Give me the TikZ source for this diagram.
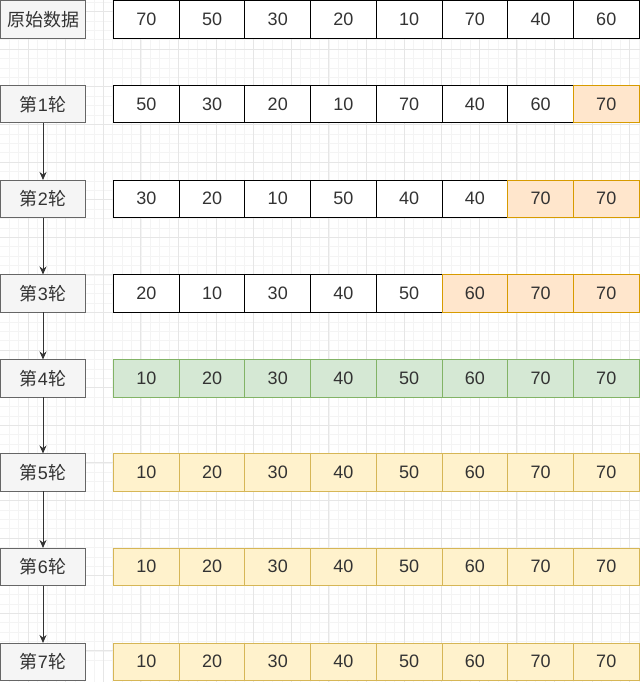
\documentclass[tikz,border=0pt]{standalone}
\usepackage{fontspec}
\setmainfont{Liberation Sans}
\newfontfamily\cjk{Noto Sans CJK SC}
\usetikzlibrary{arrows.meta}
\definecolor{gridminor}{HTML}{F4F4F4}
\definecolor{gridmajor}{HTML}{E6E6E6}
\definecolor{lblfill}{HTML}{F5F5F5}
\definecolor{lblline}{HTML}{666666}
\definecolor{txt}{HTML}{333333}
\definecolor{orfill}{HTML}{FFE6CC}
\definecolor{orline}{HTML}{D79B00}
\definecolor{grfill}{HTML}{D5E8D4}
\definecolor{grline}{HTML}{82B366}
\definecolor{yefill}{HTML}{FFF2CC}
\definecolor{yeline}{HTML}{D6B656}
\tikzset{
  base/.style={draw, line width=1pt, inner sep=0pt, outer sep=0pt, anchor=north west,
    minimum height=37.5pt, font=\fontsize{18}{20}\selectfont, text=txt},
  lbl/.style={base, fill=lblfill, draw=lblline, minimum width=85pt},
  wcell/.style={base, fill=white, draw=black, minimum width=65.7pt},
  ocell/.style={base, fill=orfill, draw=orline, minimum width=65.7pt},
  gcell/.style={base, fill=grfill, draw=grline, minimum width=65.7pt},
  ycell/.style={base, fill=yefill, draw=yeline, minimum width=65.7pt},
  arr/.style={draw=black!80, line width=1pt, -{Stealth[length=8pt,width=7pt]}},
}
\begin{document}
\begin{tikzpicture}[x=1pt,y=-1pt]
\useasboundingbox (0,0) rectangle (640,682);
% background grid
\fill[white] (0,0) rectangle (640,682);
\foreach \i in {0,...,70} {
  \draw[gridminor, line width=0.6pt] ({-9.6+9.4*\i},0) -- ({-9.6+9.4*\i},682);
  \draw[gridminor, line width=0.6pt] (0,{2.2+9.4*\i}) -- (640,{2.2+9.4*\i});
}
\foreach \i in {0,...,18} {
  \draw[gridmajor, line width=0.8pt] ({-9.6+37.6*\i},0) -- ({-9.6+37.6*\i},682);
  \draw[gridmajor, line width=0.8pt] (0,{11.6+37.6*\i}) -- (640,{11.6+37.6*\i});
}
% labels
\node[lbl] (l0) at (0.5,1) {{\cjk 原始数据}};
\node[lbl] (l1) at (0.5,85.5) {{\cjk 第}1{\cjk 轮}};
\node[lbl] (l2) at (0.5,180) {{\cjk 第}2{\cjk 轮}};
\node[lbl] (l3) at (0.5,274.5) {{\cjk 第}3{\cjk 轮}};
\node[lbl] (l4) at (0.5,359.5) {{\cjk 第}4{\cjk 轮}};
\node[lbl] (l5) at (0.5,453.5) {{\cjk 第}5{\cjk 轮}};
\node[lbl] (l6) at (0.5,548) {{\cjk 第}6{\cjk 轮}};
\node[lbl] (l7) at (0.5,643) {{\cjk 第}7{\cjk 轮}};
% cells
\foreach \v [count=\k from 0] in {70,50,30,20,10,70,40,60}
  \node[wcell] (c0-\k) at ({113.5+65.7*\k},1) {\v};
\foreach \v/\s [count=\k from 0] in {50/wcell,30/wcell,20/wcell,10/wcell,70/wcell,40/wcell,60/wcell,70/ocell}
  \node[\s] (c1-\k) at ({113.5+65.7*\k},85.5) {\v};
\foreach \v/\s [count=\k from 0] in {30/wcell,20/wcell,10/wcell,50/wcell,40/wcell,40/wcell,70/ocell,70/ocell}
  \node[\s] (c2-\k) at ({113.5+65.7*\k},180) {\v};
\foreach \v/\s [count=\k from 0] in {20/wcell,10/wcell,30/wcell,40/wcell,50/wcell,60/ocell,70/ocell,70/ocell}
  \node[\s] (c3-\k) at ({113.5+65.7*\k},274.5) {\v};
\foreach \v [count=\k from 0] in {10,20,30,40,50,60,70,70}
  \node[gcell] (c4-\k) at ({113.5+65.7*\k},359.5) {\v};
\foreach \r/\y in {5/453.5,6/548,7/643}
  \foreach \v [count=\k from 0] in {10,20,30,40,50,60,70,70}
    \node[ycell] (c\r-\k) at ({113.5+65.7*\k},\y) {\v};
% arrows
\draw[arr] (l1.south) -- (l2.north);
\draw[arr] (l2.south) -- (l3.north);
\draw[arr] (l3.south) -- (l4.north);
\draw[arr] (l4.south) -- (l5.north);
\draw[arr] (l5.south) -- (l6.north);
\draw[arr] (l6.south) -- (l7.north);
\end{tikzpicture}
\end{document}
